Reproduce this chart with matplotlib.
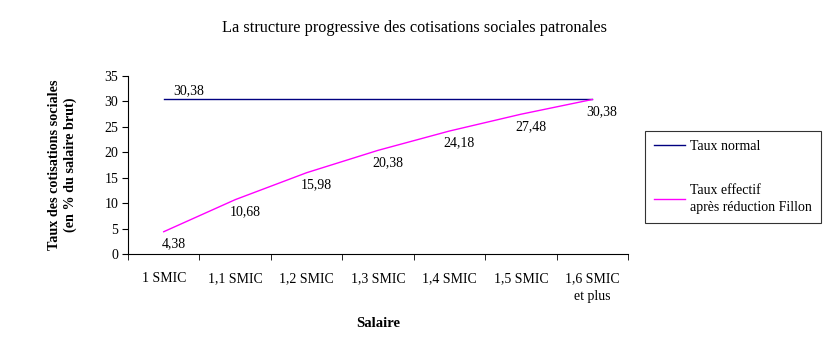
import matplotlib
matplotlib.use("Agg")
import matplotlib.pyplot as plt
from matplotlib.ticker import FixedLocator, NullFormatter

plt.rcParams['font.family'] = ['Liberation Serif', 'DejaVu Serif']

categories = ["1 SMIC", "1,1 SMIC", "1,2 SMIC", "1,3 SMIC", "1,4 SMIC", "1,5 SMIC", "1,6 SMIC\net plus"]
taux_normal = [30.38] * 7
taux_effectif = [4.38, 10.68, 15.98, 20.38, 24.18, 27.48, 30.38]

fig = plt.figure(figsize=(8.29, 3.54), dpi=100)
ax = fig.add_axes([128 / 829, 1 - 254 / 354, 500 / 829, 178 / 354])

x = list(range(len(categories)))
ax.plot(x, taux_normal, color="#000080", lw=1, label="Taux normal")
ax.plot(x, taux_effectif, color="#ff00ff", lw=1, label="Taux effectif\naprès réduction Fillon")

ax.annotate("30,38", (x[0], taux_normal[0]), xytext=(18, 2), textcoords="offset points",
            ha="center", va="bottom", fontsize=10)
for xi, v in zip(x, taux_effectif):
    ax.annotate(f"{v:.2f}".replace(".", ","), (xi, v), xytext=(7, -4), textcoords="offset points",
                ha="center", va="top", fontsize=10)

ax.set_xlim(-0.5, 6.5)
ax.set_ylim(0, 35)
ax.set_yticks(range(0, 36, 5))
ax.set_xticks(x)
ax.set_xticklabels(categories, fontsize=10, linespacing=1.5)
ax.xaxis.set_minor_locator(FixedLocator([i - 0.5 for i in range(8)]))
ax.xaxis.set_minor_formatter(NullFormatter())
ax.tick_params(axis="x", which="major", length=0, pad=13)
ax.tick_params(axis="x", which="minor", length=4, direction="out")
ax.tick_params(axis="y", length=4, direction="out", labelsize=10, pad=3)
for s in ("top", "right"):
    ax.spines[s].set_visible(False)
ax.spines["left"].set_linewidth(0.8)
ax.spines["bottom"].set_linewidth(0.8)

ax.set_xlabel("Salaire", fontsize=10.5, fontweight="bold", labelpad=10)
ax.set_ylabel("Taux des cotisations sociales\n(en % du salaire brut)", fontsize=10.2,
              fontweight="bold", labelpad=20)
fig.text(415 / 829, 1 - 28 / 354, "La structure progressive des cotisations sociales patronales",
         ha="center", va="center", fontsize=11.7)

leg = fig.legend(loc="upper left", bbox_to_anchor=(645 / 829, 1 - 131 / 354), fontsize=10,
                 frameon=True, fancybox=False, edgecolor="black", handlelength=2.2,
                 labelspacing=2.2, borderpad=0.65, handletextpad=0.4, borderaxespad=0)
leg.get_frame().set_linewidth(0.8)
for t in leg.get_texts():
    t.set_linespacing(1.45)

fig.savefig("out.png", dpi=100)
